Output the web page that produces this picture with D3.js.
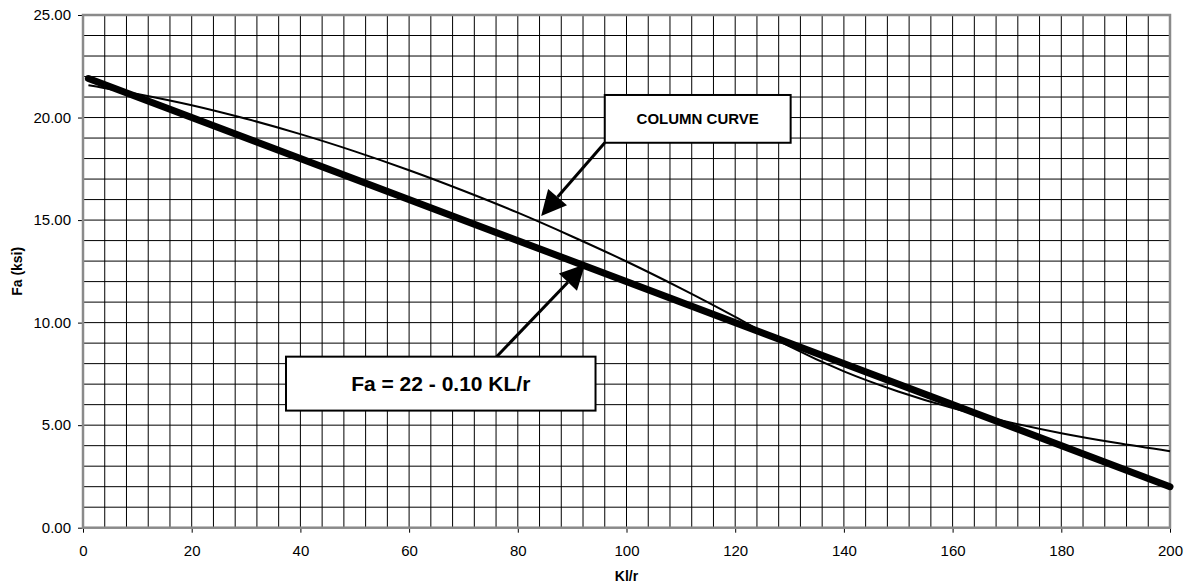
<!DOCTYPE html>
<html>
<head>
<meta charset="utf-8">
<script src="https://cdn.jsdelivr.net/npm/d3@7"></script>
<style>
  body { margin: 0; background: #fff; }
  svg { display: block; font-family: "Liberation Sans", Arial, sans-serif; }
  .tick text { font-size: 15px; fill: #000; }
  .axis-title { font-size: 14px; font-weight: bold; }
</style>
</head>
<body>
<div id="chart"></div>
<script>
// column curve
const curveKLr = [1, 10, 20, 30, 40, 50, 60, 70, 80, 90, 100, 110, 120, 126, 130, 140, 150, 160, 170, 180, 190, 200];
const curveFa = [21.58, 21.15, 20.6, 19.94, 19.19, 18.35, 17.43, 16.43, 15.36, 14.2, 12.98, 11.67, 10.28, 9.4, 8.84, 7.62, 6.64, 5.83, 5.17, 4.61, 4.14, 3.73];

// straight line approximation Fa = 22 - 0.10 KL/r
const lineKLr = [1, 200];
const lineFa = [21.9, 2.0];

const xTicks = [0, 20, 40, 60, 80, 100, 120, 140, 160, 180, 200];
const yTicks = [0, 5, 10, 15, 20, 25];

const width = 1187, height = 583;
const margin = { top: 15, right: 17, bottom: 55.3, left: 83 };

const svg = d3.select("#chart").append("svg")
  .attr("width", width)
  .attr("height", height);

const x = d3.scaleLinear().domain([0, 200]).range([margin.left, width - margin.right]);
const y = d3.scaleLinear().domain([0, 25]).range([height - margin.bottom, margin.top]);

// grid
const grid = svg.append("g").attr("stroke", "#000").attr("stroke-width", 1);
grid.selectAll(".gx")
  .data(d3.range(4, 200, 4))
  .join("line")
  .attr("x1", d => x(d)).attr("x2", d => x(d))
  .attr("y1", y(0)).attr("y2", y(25));
grid.selectAll(".gy")
  .data(d3.range(1, 25, 1))
  .join("line")
  .attr("y1", d => y(d)).attr("y2", d => y(d))
  .attr("x1", x(0)).attr("x2", x(200));

// axes
svg.append("g")
  .attr("transform", `translate(0,${y(0)})`)
  .call(d3.axisBottom(x).tickValues(xTicks).tickSize(5).tickPadding(13))
  .call(g => g.select(".domain").remove())
  .call(g => g.selectAll(".tick line").attr("stroke", "#000"));

svg.append("g")
  .attr("transform", `translate(${x(0)},0)`)
  .call(d3.axisLeft(y).tickValues(yTicks).tickFormat(d3.format(".2f")).tickSize(5).tickPadding(7))
  .call(g => g.select(".domain").remove())
  .call(g => g.selectAll(".tick line").attr("stroke", "#000"));

// plot frame
svg.append("rect")
  .attr("x", x(0)).attr("y", y(25))
  .attr("width", x(200) - x(0)).attr("height", y(0) - y(25))
  .attr("fill", "none")
  .attr("stroke", "#8a8a8a")
  .attr("stroke-width", 2.5);

// series
const thinLine = d3.line()
  .x((d, i) => x(curveKLr[i]))
  .y(d => y(d))
  .curve(d3.curveMonotoneX);

svg.append("path")
  .datum(curveFa)
  .attr("d", thinLine)
  .attr("fill", "none")
  .attr("stroke", "#000")
  .attr("stroke-width", 2)
  .attr("stroke-linejoin", "round");

svg.append("path")
  .datum(lineFa)
  .attr("d", d3.line().x((d, i) => x(lineKLr[i])).y(d => y(d)))
  .attr("fill", "none")
  .attr("stroke", "#000")
  .attr("stroke-width", 7)
  .attr("stroke-linecap", "round");

// axis titles
svg.append("text")
  .attr("class", "axis-title")
  .attr("x", (x(0) + x(200)) / 2)
  .attr("y", 581)
  .attr("text-anchor", "middle")
  .text("Kl/r");

svg.append("text")
  .attr("class", "axis-title")
  .attr("transform", `translate(22,${(y(0) + y(25)) / 2}) rotate(-90)`)
  .attr("text-anchor", "middle")
  .text("Fa (ksi)");

// callouts (in data units)
const callouts = [
  { label: "COLUMN CURVE", size: 15, box: [96.0, 21.1, 130.2, 18.77], from: [96.0, 18.77], to: [84.3, 15.2] },
  { label: "Fa = 22 - 0.10 KL/r", size: 21, box: [37.35, 8.34, 94.3, 5.71], from: [76.1, 8.34], to: [92.4, 12.85] }
];

const head = 25, halfW = 12.5;

callouts.forEach(c => {
  const g = svg.append("g");
  const x1 = x(c.from[0]), y1 = y(c.from[1]);
  const x2 = x(c.to[0]), y2 = y(c.to[1]);
  const ang = Math.atan2(y2 - y1, x2 - x1);
  const bx = x2 - head * Math.cos(ang), by = y2 - head * Math.sin(ang);
  const nx = -Math.sin(ang) * halfW, ny = Math.cos(ang) * halfW;

  g.append("line")
    .attr("x1", x1).attr("y1", y1)
    .attr("x2", bx).attr("y2", by)
    .attr("stroke", "#000").attr("stroke-width", 3);
  g.append("path")
    .attr("d", `M${x2},${y2}L${bx + nx},${by + ny}L${bx - nx},${by - ny}Z`)
    .attr("fill", "#000");

  const [bx0, by0, bx1, by1] = c.box;
  g.append("rect")
    .attr("x", x(bx0)).attr("y", y(by0))
    .attr("width", x(bx1) - x(bx0)).attr("height", y(by1) - y(by0))
    .attr("fill", "#fff")
    .attr("stroke", "#000")
    .attr("stroke-width", 2);
  g.append("text")
    .attr("x", (x(bx0) + x(bx1)) / 2)
    .attr("y", (y(by0) + y(by1)) / 2)
    .attr("dy", "0.36em")
    .attr("text-anchor", "middle")
    .attr("font-weight", "bold")
    .attr("font-size", c.size)
    .text(c.label);
});
</script>
</body>
</html>
